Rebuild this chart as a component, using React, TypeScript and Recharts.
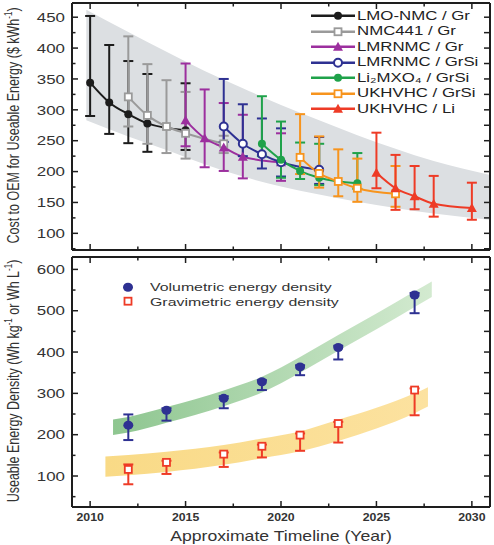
import { ComposedChart, Line, Area, Scatter, XAxis, YAxis, ErrorBar, Legend } from "recharts";

const FONT = '"Liberation Sans", Arial, Helvetica, sans-serif';
const INK = "#1e1e1e";
const TEXT = "#333";

// ---- cost panel: year, cost ($/kWh), error bar ends ----
const lmoNmcGr = { years: [2010, 2011, 2012, 2013, 2015], cost: [344, 312, 293, 278, 267], low: [290, 261, 246, 232, 235], high: [452, 405, 379, 358, 343] };
const nmc441Gr = { years: [2012, 2013, 2014, 2015, 2017], cost: [321, 291, 273, 262, 245], low: [273, 245, 230, 221, 230], high: [419, 374, 348, 329, 258] };
const lmrnmcGr = { years: [2015, 2016, 2017, 2018, 2020], cost: [283, 254, 239, 224, 215], low: [241, 207, 201, 189, 185], high: [375, 333, 311, 292, 262] };
const lmrnmcGrSi = { years: [2017, 2018, 2019, 2020, 2022], cost: [273, 245, 228, 215, 203], low: [248, 225, 205, 192, 180], high: [350, 309, 286, 270, 256] };
const li2mxo4GrSi = { years: [2019, 2020, 2021, 2022, 2024], cost: [245, 219, 201, 190, 181], low: [225, 190, 188, 178, 172], high: [322, 281, 247, 245, 230] };
const ukhvhcGrSi = { years: [2021, 2022, 2023, 2024, 2026], cost: [223, 197, 184, 173, 164], low: [196, 174, 160, 151, 143], high: [293, 257, 236, 221, 209] };
const ukhvhcLi = { years: [2025, 2026, 2027, 2028, 2030], cost: [198, 173, 160, 148, 141], low: [173, 138, 139, 127, 122], high: [263, 227, 209, 193, 182] };

const costBandYears = [2009.8, 2012, 2014, 2016, 2018, 2020, 2022, 2024, 2026, 2028, 2030.9];
const costBandLow = [283, 257, 235, 212, 192, 176, 163, 151, 141, 132, 122];
const costBandHigh = [462, 426, 394, 363, 335, 308, 283, 259, 237, 217, 195];

// ---- energy density panel ----
const densityYears = [2012, 2014, 2017, 2019, 2021, 2023, 2027];
const volumetric = [223, 259, 288, 328, 364, 411, 538];
const volumetricLow = [187, 234, 264, 308, 344, 382, 494];
const volumetricHigh = [249, 264, 293, 332, 368, 415, 543];
const gravimetric = [116, 133, 153, 172, 199, 227, 308];
const gravimetricLow = [80, 105, 122, 145, 161, 181, 247];
const gravimetricHigh = [128, 137, 157, 176, 203, 231, 312];

const volBandYears = [2011.2, 2012, 2014, 2017, 2019, 2021, 2023, 2025, 2027, 2027.9];
const volBandLow = [199, 205, 229, 269, 302, 350, 403, 455, 509, 533];
const volBandHigh = [237, 243, 267, 307, 340, 388, 441, 493, 547, 571];
const gravBandYears = [2010.8, 2012, 2014, 2017, 2019, 2021, 2023, 2025, 2027, 2027.7];
const gravBandLow = [98, 102, 110, 127, 143, 160, 185, 215, 252, 268];
const gravBandHigh = [147, 151, 159, 175, 191, 208, 236, 265, 300, 315];

const yearTicks = [2010, 2012.5, 2015, 2017.5, 2020, 2022.5, 2025, 2027.5, 2030];
const costTicks = [75, 100, 125, 150, 175, 200, 225, 250, 275, 300, 325, 350, 375, 400, 425, 450];
const densityTicks = [50, 100, 150, 200, 250, 300, 350, 400, 450, 500, 550, 600];

const costSeries = [
  { key: "lmo", label: "LMO-NMC / Gr", color: "#1c1c1c", shape: "dot", d: lmoNmcGr },
  { key: "nmc", label: "NMC441 / Gr", color: "#9a9a9a", shape: "square", d: nmc441Gr },
  { key: "lmrg", label: "LMRNMC / Gr", color: "#9c2f9e", shape: "tri", d: lmrnmcGr },
  { key: "lmrs", label: "LMRNMC / GrSi", color: "#2e3192", shape: "ring", d: lmrnmcGrSi },
  { key: "li2", label: "Li₂MXO₄ / GrSi", color: "#1fa24a", shape: "dot", d: li2mxo4GrSi },
  { key: "ukg", label: "UKHVHC / GrSi", color: "#f7941d", shape: "square", d: ukhvhcGrSi },
  { key: "ukl", label: "UKHVHC / Li", color: "#ee3b26", shape: "tri", d: ukhvhcLi },
];

const toRows = (years: number[], vals: number[], low: number[], high: number[]) =>
  years.map((x, i) => ({ x, y: vals[i], err: [vals[i] - low[i], high[i] - vals[i]] }));
const toBand = (years: number[], low: number[], high: number[]) =>
  years.map((x, i) => ({ x, range: [low[i], high[i]] }));

function Marker({ cx, cy, shape, color }: any) {
  if (cx == null || cy == null) return null;
  if (shape === "dot") return <circle cx={cx} cy={cy} r={4} fill={color} />;
  if (shape === "ring") return <circle cx={cx} cy={cy} r={4} fill="#fff" stroke={color} strokeWidth={2} />;
  if (shape === "square")
    return <rect x={cx - 3.5} y={cy - 3.5} width={7} height={7} fill="#fff" stroke={color} strokeWidth={1.8} />;
  if (shape === "bigdot") return <ellipse cx={cx} cy={cy} rx={5} ry={4.5} fill={color} />;
  return <polygon points={`${cx},${cy - 5} ${cx + 5},${cy + 4} ${cx - 5},${cy + 4}`} fill={color} />;
}

// inward ticks on every side, labels only where asked
const GAP = 6;
function makeTick(side: string, majorEvery: number, label?: { size: number; stretch: number; bold?: boolean }) {
  return (props: any) => {
    const { x, y, payload } = props;
    const v = payload.value;
    const major = Math.abs(v / majorEvery - Math.round(v / majorEvery)) < 1e-6;
    const len = major ? 6 : 3.5;
    let tick;
    let text = null;
    if (side === "bottom") {
      const ay = y - GAP;
      tick = <line x1={x} x2={x} y1={ay} y2={ay - len} />;
      if (label && major)
        text = (
          <text transform={`translate(${x},${ay + 14}) scale(${label.stretch},1)`} textAnchor="middle"
            fontSize={label.size} fontWeight={label.bold ? "bold" : "normal"} fill={TEXT} stroke="none">{v}</text>
        );
    } else if (side === "top") {
      const ay = y + GAP;
      tick = <line x1={x} x2={x} y1={ay} y2={ay + len} />;
    } else if (side === "left") {
      const ax = x + GAP;
      tick = <line x1={ax} x2={ax + len} y1={y} y2={y} />;
      if (label && major)
        text = (
          <text transform={`translate(${ax - 7},${y}) scale(${label.stretch},1)`} textAnchor="end" dy="0.36em"
            fontSize={label.size} fill={TEXT} stroke="none">{v}</text>
        );
    } else {
      const ax = x - GAP;
      tick = <line x1={ax} x2={ax - len} y1={y} y2={y} />;
    }
    return (
      <g stroke={INK} strokeWidth={1.5} fontFamily={FONT}>
        {tick}
        {text}
      </g>
    );
  };
}

const axisLine = { stroke: INK, strokeWidth: 2 };
const xDomain = [2009.05, 2030.95];

function TopLegend() {
  return (
    <div style={{ fontFamily: FONT }}>
      {costSeries.map((s) => (
        <div key={s.key} style={{ display: "flex", alignItems: "center", height: 15.5 }}>
          <svg width={44} height={15.5} style={{ flex: "none" }}>
            <line x1={0} x2={44} y1={7.75} y2={7.75} stroke={s.color} strokeWidth={2.5} />
            <Marker cx={27} cy={7.75} shape={s.shape} color={s.color} />
          </svg>
          <span style={{ fontSize: 12, color: "#222", marginLeft: 2, display: "inline-block", whiteSpace: "nowrap", transform: "scaleX(1.4)", transformOrigin: "left center" }}>
            {s.label}
          </span>
        </div>
      ))}
    </div>
  );
}

const densityLegend = [
  { key: "v", label: "Volumetric energy density", color: "#2e3192", shape: "bigdot" },
  { key: "g", label: "Gravimetric energy density", color: "#ee3b26", shape: "square" },
];

function BottomLegend() {
  return (
    <div style={{ fontFamily: FONT }}>
      {densityLegend.map((s) => (
        <div key={s.key} style={{ display: "flex", alignItems: "center", height: 14.4 }}>
          <svg width={16} height={14.4} style={{ flex: "none" }}>
            <Marker cx={8} cy={7.2} shape={s.shape} color={s.color} />
          </svg>
          <span style={{ fontSize: 11.5, color: TEXT, marginLeft: 14, display: "inline-block", whiteSpace: "nowrap", transform: "scaleX(1.38)", transformOrigin: "left center" }}>
            {s.label}
          </span>
        </div>
      ))}
    </div>
  );
}

const costLabel = (p: any) => {
  const vb = p.viewBox;
  return (
    <text transform={`translate(13.5,${vb.y + vb.height / 2 - 1}) rotate(-90) scale(1,1.3)`} textAnchor="middle"
      dominantBaseline="central" fontFamily={FONT} fontSize={12.5} fill={TEXT}>
      Cost to OEM for Useable Energy ($ kWh<tspan dy={-4} fontSize={8}>-1</tspan><tspan dy={4}>)</tspan>
    </text>
  );
};

const densityLabel = (p: any) => {
  const vb = p.viewBox;
  return (
    <text transform={`translate(13.5,${vb.y + vb.height / 2 - 1}) rotate(-90) scale(1,1.3)`} textAnchor="middle"
      dominantBaseline="central" fontFamily={FONT} fontSize={12.5} fill={TEXT}>
      Useable Energy Density (Wh kg<tspan dy={-4} fontSize={8}>-1</tspan><tspan dy={4}> or Wh L</tspan>
      <tspan dy={-4} fontSize={8}>-1</tspan><tspan dy={4}>)</tspan>
    </text>
  );
};

const timeLabel = (p: any) => {
  const vb = p.viewBox;
  return (
    <text transform={`translate(${vb.x + vb.width / 2},${vb.y + 34}) scale(1.26,1)`} textAnchor="middle"
      fontFamily={FONT} fontSize={14} fill={TEXT}>
      Approximate Timeline (Year)
    </text>
  );
};

function CostChart() {
  return (
    <ComposedChart width={494} height={253} margin={{ top: 0, right: 0, bottom: 0, left: 0 }}>
      <XAxis xAxisId="b" dataKey="x" type="number" domain={xDomain} allowDataOverflow ticks={yearTicks} interval={0}
        height={3} tickSize={0} tickMargin={GAP} axisLine={axisLine} tickLine={false} tick={makeTick("bottom", 5)} />
      <XAxis xAxisId="t" orientation="top" dataKey="x" type="number" domain={xDomain} allowDataOverflow ticks={yearTicks} interval={0}
        height={3} tickSize={0} tickMargin={GAP} axisLine={axisLine} tickLine={false} tick={makeTick("top", 5)} />
      <YAxis yAxisId="l" type="number" domain={[73, 473]} allowDataOverflow ticks={costTicks} interval={0} width={72}
        tickSize={0} tickMargin={GAP} axisLine={axisLine} tickLine={false}
        tick={makeTick("left", 50, { size: 13, stretch: 1.3 })} label={costLabel} />
      <YAxis yAxisId="r" orientation="right" type="number" domain={[73, 473]} allowDataOverflow ticks={costTicks} interval={0} width={4}
        tickSize={0} tickMargin={GAP} axisLine={axisLine} tickLine={false} tick={makeTick("right", 25)} />
      <Area xAxisId="b" yAxisId="l" data={toBand(costBandYears, costBandLow, costBandHigh)} dataKey="range" type="monotone"
        stroke="none" fill="#dcdfe2" fillOpacity={1} isAnimationActive={false} />
      {costSeries.map((s) => (
        <Line key={s.key} xAxisId="b" yAxisId="l" data={toRows(s.d.years, s.d.cost, s.d.low, s.d.high)} dataKey="y"
          type="monotone" stroke={s.color} strokeWidth={2} isAnimationActive={false}
          dot={(p: any) => <Marker key={p.index} cx={p.cx} cy={p.cy} shape={s.shape} color={s.color} />} activeDot={false}>
          <ErrorBar dataKey="err" direction="y" width={5} stroke={s.color} strokeWidth={2} />
        </Line>
      ))}
      <Legend layout="vertical" align="center" verticalAlign="middle" content={TopLegend}
        wrapperStyle={{ top: 8, left: 311, width: 180, height: 110 }} />
    </ComposedChart>
  );
}

function DensityChart() {
  return (
    <ComposedChart width={494} height={292} margin={{ top: 0, right: 0, bottom: 0, left: 0 }}>
      <defs>
        <linearGradient id="volBand" x1="0" y1="0" x2="1" y2="0">
          <stop offset="0%" stopColor="#8ec690" />
          <stop offset="100%" stopColor="#d3ead0" />
        </linearGradient>
        <linearGradient id="gravBand" x1="0" y1="0" x2="1" y2="0">
          <stop offset="0%" stopColor="#f9da86" />
          <stop offset="100%" stopColor="#fce2a0" />
        </linearGradient>
      </defs>
      <XAxis xAxisId="b" dataKey="x" type="number" domain={xDomain} allowDataOverflow ticks={yearTicks} interval={0}
        height={38} tickSize={0} tickMargin={GAP} axisLine={axisLine} tickLine={false}
        tick={makeTick("bottom", 5, { size: 11, stretch: 1.12, bold: true })} label={timeLabel} />
      <XAxis xAxisId="t" orientation="top" dataKey="x" type="number" domain={xDomain} allowDataOverflow ticks={yearTicks} interval={0}
        height={4} tickSize={0} tickMargin={GAP} axisLine={axisLine} tickLine={false} tick={makeTick("top", 5)} />
      <YAxis yAxisId="l" type="number" domain={[25, 630]} allowDataOverflow ticks={densityTicks} interval={0} width={72}
        tickSize={0} tickMargin={GAP} axisLine={axisLine} tickLine={false}
        tick={makeTick("left", 100, { size: 13, stretch: 1.3 })} label={densityLabel} />
      <YAxis yAxisId="r" orientation="right" type="number" domain={[25, 630]} allowDataOverflow ticks={densityTicks} interval={0} width={4}
        tickSize={0} tickMargin={GAP} axisLine={axisLine} tickLine={false} tick={makeTick("right", 50)} />
      <Area xAxisId="b" yAxisId="l" data={toBand(volBandYears, volBandLow, volBandHigh)} dataKey="range" type="monotone"
        stroke="none" fill="url(#volBand)" fillOpacity={1} isAnimationActive={false} />
      <Area xAxisId="b" yAxisId="l" data={toBand(gravBandYears, gravBandLow, gravBandHigh)} dataKey="range" type="monotone"
        stroke="none" fill="url(#gravBand)" fillOpacity={1} isAnimationActive={false} />
      <Scatter xAxisId="b" yAxisId="l" data={toRows(densityYears, volumetric, volumetricLow, volumetricHigh)} dataKey="y"
        isAnimationActive={false} shape={(p: any) => <Marker cx={p.cx} cy={p.cy} shape="bigdot" color="#2e3192" />}>
        <ErrorBar dataKey="err" direction="y" width={5} stroke="#2e3192" strokeWidth={2} />
      </Scatter>
      <Scatter xAxisId="b" yAxisId="l" data={toRows(densityYears, gravimetric, gravimetricLow, gravimetricHigh)} dataKey="y"
        isAnimationActive={false} shape={(p: any) => <Marker cx={p.cx} cy={p.cy} shape="square" color="#ee3b26" />}>
        <ErrorBar dataKey="err" direction="y" width={5} stroke="#ee3b26" strokeWidth={2} />
      </Scatter>
      <Legend layout="vertical" align="center" verticalAlign="middle" content={BottomLegend}
        wrapperStyle={{ top: 27, left: 120, width: 260, height: 30 }} />
    </ComposedChart>
  );
}

export default function App() {
  return (
    <div style={{ position: "absolute", left: 0, top: 0, width: 494, height: 545, background: "#fff" }}>
      <div style={{ position: "absolute", left: 0, top: 0 }}>
        <CostChart />
      </div>
      <div style={{ position: "absolute", left: 0, top: 253 }}>
        <DensityChart />
      </div>
    </div>
  );
}
